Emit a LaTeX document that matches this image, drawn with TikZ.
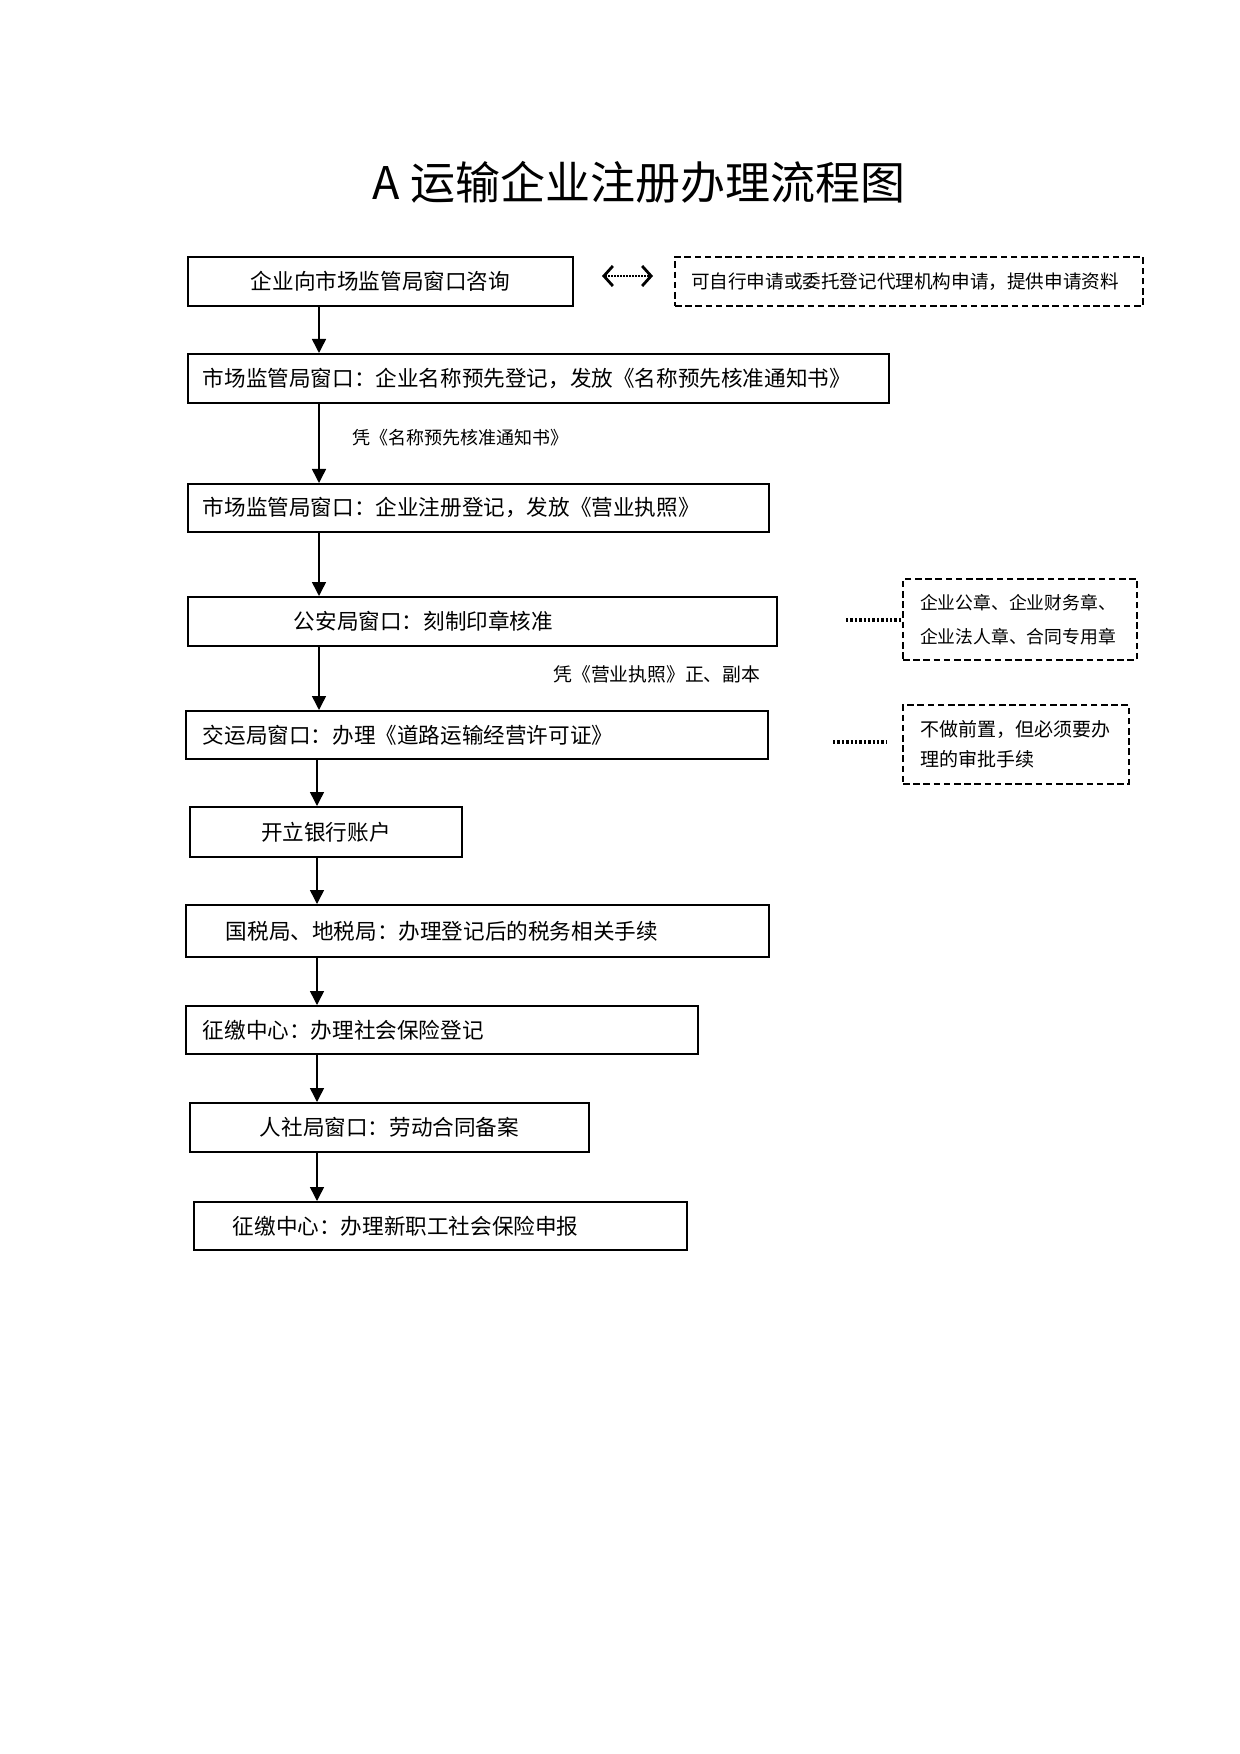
\documentclass[tikz,border=0pt]{standalone}
\usepackage{fontspec}
\setmainfont{Noto Sans CJK SC}
\usetikzlibrary{arrows.meta}
\begin{document}
\begin{tikzpicture}[x=0.5pt,y=-0.5pt,
  box/.style={draw, line width=0.9pt, rectangle, anchor=north west, inner ysep=0pt,
    font=\fontsize{10.8pt}{13pt}\selectfont},
  sidebox/.style={draw, line width=1pt, dash pattern=on 3.3pt off 1.8pt, rectangle,
    anchor=north west, inner ysep=0pt, align=left},
  arr/.style={line width=0.75pt, -{Triangle[length=7pt,width=7pt]}},
  dotline/.style={line width=1.8pt, dash pattern=on 1.2pt off 1.0pt},
  dblarr/.style={line width=0.8pt, dash pattern=on 0.8pt off 0.7pt,
    {Straight Barb[length=4.5pt,width=10pt,line width=1.4pt]}-{Straight Barb[length=4.5pt,width=10pt,line width=1.4pt]}},
  lbl/.style={anchor=west, inner sep=0pt}
]
\useasboundingbox (0,0) rectangle (1240,1754);
\fill[white] (0,0) rectangle (1240,1754);

\node[font=\fontsize{22.5pt}{26pt}\selectfont] (title) at (639,182) {A 运输企业注册办理流程图};

% main boxes
\node[box, inner xsep=5pt, text width=182.5pt, align=center, minimum height=24.5pt] (b1) at (187,256) {企业向市场监管局窗口咨询};
\node[box, inner xsep=7.5pt, text width=335.5pt, align=left, minimum height=24.5pt] (b2) at (187,353) {市场监管局窗口：企业名称预先登记，发放《名称预先核准通知书》};
\node[box, inner xsep=7.5pt, text width=275.5pt, align=left, minimum height=24pt] (b3) at (187,483) {市场监管局窗口：企业注册登记，发放《营业执照》};
\node[box, inner xsep=53pt, text width=188.5pt, align=left, minimum height=24.5pt] (b4) at (187,596) {公安局窗口：刻制印章核准};
\node[box, inner xsep=8.5pt, text width=274pt, align=left, minimum height=24pt] (b5) at (185,710) {交运局窗口：办理《道路运输经营许可证》};
\node[box, inner xsep=5pt, text width=126pt, align=center, minimum height=25pt] (b6) at (189,806) {开立银行账户};
\node[box, inner xsep=20pt, text width=251.5pt, align=left, minimum height=26pt] (b7) at (185,904) {国税局、地税局：办理登记后的税务相关手续};
\node[box, inner xsep=8.5pt, text width=239pt, align=left, minimum height=24pt] (b8) at (185,1005) {征缴中心：办理社会保险登记};
\node[box, inner xsep=5pt, text width=189.5pt, align=center, minimum height=24.5pt] (b9) at (189,1102) {人社局窗口：劳动合同备案};
\node[box, inner xsep=19.5pt, text width=207.5pt, align=left, minimum height=24pt] (b10) at (193,1201) {征缴中心：办理新职工社会保险申报};

% side boxes
\node[sidebox, inner xsep=8pt, text width=218pt, minimum height=24.5pt,
  font=\fontsize{9.3pt}{11pt}\selectfont] (s1) at (674,256) {可自行申请或委托登记代理机构申请，提供申请资料};
\node[sidebox, inner xsep=8.5pt, text width=100pt, minimum height=40.5pt,
  font=\fontsize{8.9pt}{17pt}\selectfont] (s2) at (902,578) {企业公章、企业财务章、\\企业法人章、合同专用章};
\node[sidebox, inner xsep=8.5pt, text width=96pt, minimum height=39.5pt,
  font=\fontsize{9.5pt}{15pt}\selectfont] (s3) at (902,704) {不做前置，但必须要办\\理的审批手续};

% arrow axes
\coordinate (axA) at (319,0);
\coordinate (axB) at (317,0);

\draw[arr] (b1.south -| axA) -- (b2.north -| axA);
\draw[arr] (b2.south -| axA) -- (b3.north -| axA);
\draw[arr] (b3.south -| axA) -- (b4.north -| axA);
\draw[arr] (b4.south -| axA) -- (b5.north -| axA);
\draw[arr] (b5.south -| axB) -- (b6.north -| axB);
\draw[arr] (b6.south -| axB) -- (b7.north -| axB);
\draw[arr] (b7.south -| axB) -- (b8.north -| axB);
\draw[arr] (b8.south -| axB) -- (b9.north -| axB);
\draw[arr] (b9.south -| axB) -- (b10.north -| axB);

% labels
\node[lbl, font=\fontsize{9pt}{11pt}\selectfont] (l1) at (352,438) {凭《名称预先核准通知书》};
\node[lbl, font=\fontsize{9.4pt}{11pt}\selectfont] (l2) at (553,674) {凭《营业执照》正、副本};

% double arrow
\coordinate (da) at (602,276);
\coordinate (db) at (653,276);
\draw[dblarr] (da) -- (db);

% dotted leaders
\coordinate (d1) at (846,620);
\draw[dotline] (d1) -- (d1 -| s2.west);
\coordinate (d2a) at (833,742);
\coordinate (d2b) at (887,742);
\draw[dotline] (d2a) -- (d2b);
\end{tikzpicture}
\end{document}
